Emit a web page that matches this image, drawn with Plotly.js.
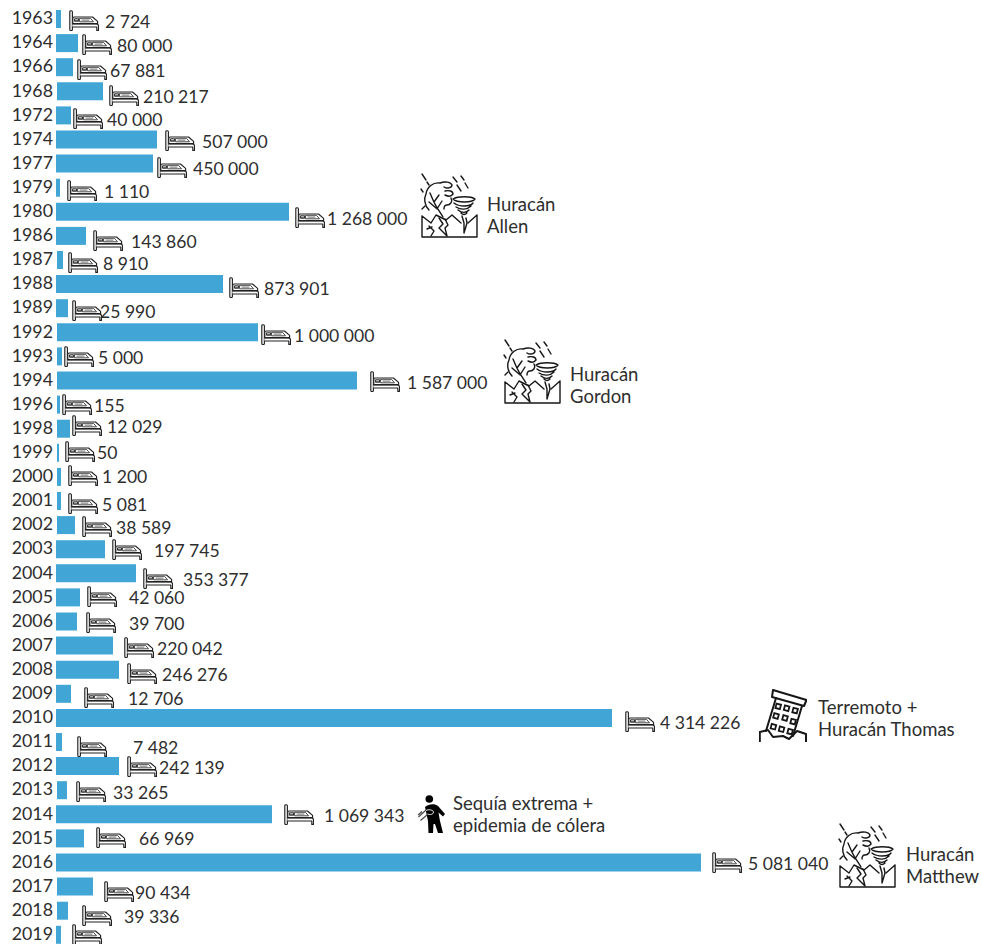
<!DOCTYPE html>
<html>
<head>
<meta charset="utf-8">
<script src="https://cdn.plot.ly/plotly-3.0.1.min.js"></script>
<style>html,body{margin:0;padding:0;background:#fff}#chart{width:981px;height:944px}</style>
</head>
<body>
<div id="chart"></div>
<script>
// ---- data ----
const years = ["1963","1964","1966","1968","1972","1974","1977","1979","1980","1986","1987","1988","1989","1992","1993","1994","1996","1998","1999","2000","2001","2002","2003","2004","2005","2006","2007","2008","2009","2010","2011","2012","2013","2014","2015","2016","2017","2018","2019"];
// Drawn bar lengths: the source bars are not proportional to their printed labels
const barLengths = [5,22,17,46,15,101,97,4,233,30,6,167,12,201,5,300,3,13,1.5,4,4,18,49,80,24,21,57,63,15,556,6,63,10,216,28,645,36,11,5];
const affectedLabels = ["2 724","80 000","67 881","210 217","40 000","507 000","450 000","1 110","1 268 000","143 860","8 910","873 901","25 990","1 000 000","5 000","1 587 000","155","12 029","50","1 200","5 081","38 589","197 745","353 377","42 060","39 700","220 042","246 276","12 706","4 314 226","7 482","242 139","33 265","1 069 343","66 969","5 081 040","90 434","39 336",""];
const eventNotes = [["Huracán","Allen"],["Huracán","Gordon"],["Terremoto +","Huracán Thomas"],["Sequía extrema +","epidemia de cólera"],["Huracán","Matthew"]];

// ---- layout of the hand-placed decorations (pixels in the 981x944 frame) ----
const W = 981, H = 944, LEFT = 56;
const barStartShift = [0,0,0,1,0,0,0,0,0,0,1,0,0,1,1,1,1,1,1,1,1,1,0,0,0,0,0,0,0,0,0,0,1,0,0,0,1,1,0];
const labelLeft = [105,117,110,143,107,202,193,104,327,131,103,264,100,294,98,407,94,107,97,102,102,116,154,183,129,129,157,162,128,660,133,159,113,324,139,748,135,124,0];
const labelMidY = [21,45,70,96,119,141,168,191,218,241,263,288,311,335,357,382,405,426,452,476,504,527,550,579,597,623,648,674,698,722,747,767,792,815,838,863,892,916,0];
const bedLeft = [69,82,77,109,73,165,157,67,295,93,68,229,72,261,64,370,62,72,65,68,68,82,112,143,87,86,124,127,84,625,77,127,76,284,96,712,104,82,72];
const noteLeft = [487,570,818,453,906];
const noteMidY = [215,385,718,814,865];
const ROW0 = 18, STEP = 24.1, TEXT_PAD = 2;
const row = py => (py - ROW0) / STEP;

// ---- icons ----
const uri = s => "data:image/svg+xml;charset=utf-8," + encodeURIComponent(s);
const bedSvg = `<svg xmlns="http://www.w3.org/2000/svg" width="90" height="63" viewBox="0 0 30 21">
<g fill="#fff" stroke="#222" stroke-width="1.15" stroke-linejoin="round" stroke-linecap="round">
<rect x="0.8" y="0.7" width="2.6" height="19.8" rx="1"/>
<path d="M3.4 13.8H27.5Q29.5 13.8 29.5 16V20.4H27.8V17H3.4"/>
<path d="M3.8 12.6V8.4Q3.8 7 5 7H23.5L28.6 11.4V13.6H3.8Z"/>
<rect x="5" y="8.2" width="5.2" height="3.6" rx="1" fill="#333" stroke="none"/>
<path d="M11 8.3H21.5L24.5 11.8H11Z" stroke="#333" stroke-width=".9"/>
<path d="M6.5 9.8H8.6" stroke="#fff" stroke-width=".9"/>
<path d="M13 10.1H20" stroke="#555" stroke-width=".9"/>
</g></svg>`;
const stormSvg = `<svg xmlns="http://www.w3.org/2000/svg" width="174" height="198" viewBox="0 0 58 66">
<g fill="none" stroke="#161616" stroke-width="1.4" stroke-linecap="round" stroke-linejoin="round">
<path d="M2 1L6 7M7 9L9 12M33 4L37 9M37 12L41 18M41 3L44 7M45 10L48 15M1 16L3 19M5 33L2 36"/>
<path d="M9 37C4 32 4 25 6 21C7 14 13 9 20 10C25 8 31 9 32 12C32 15 27 16 24 14M25 18C29 17 33 18 33 21C31 24 27 23 25 22M31 25C33 29 30 32 27 32C25 32 24 34 24 36"/>
<path d="M23 44C20 39 16 34 13 27M16 35L9 29M17 36L22 28M14 29L19 22M10 20L13 27"/>
<path d="M33 26C38 23 51 23 55 26C52 30 37 30 33 26ZM34 30C39 34 50 34 53 30M36 34C41 37 47 37 51 33M38 37C42 40 46 40 49 37M41 40C43 42 45 42 47 40"/>
<path d="M42 43L44 50L44 60L47 50L46 45"/>
<path d="M2 43L11 50L16 42L26 47L32 42L41 50M48 50L57 42M2 43V64H57V42"/>
<path d="M19 45L23 51L19 55L27 63L25 55L28 52L25 46M9 53L14 58L11 63M7 56L12 54"/>
</g></svg>`;
const buildingSvg = `<svg xmlns="http://www.w3.org/2000/svg" width="144" height="159" viewBox="0 0 48 53">
<g fill="none" stroke="#161616" stroke-width="2" stroke-linejoin="round" stroke-linecap="round">
<path d="M14 1L47.5 11L45 17L13 8Z"/>
<path d="M17 9L7 42M43 17L34 47"/>
<path d="M0.8 43L9 41L14 48L24 47L30 50L38 42L47 45V53M0.8 43V53"/>
</g>
<g fill="none" stroke="#161616" stroke-width="1.8">
<rect x="17" y="15" width="4.6" height="4.6" transform="rotate(15 19 17)"/>
<rect x="25.4" y="17" width="4.6" height="4.6" transform="rotate(15 28 19)"/>
<rect x="33.7" y="19.3" width="4.6" height="4.6" transform="rotate(15 36 22)"/>
<rect x="14.7" y="24.7" width="4.6" height="4.6" transform="rotate(15 17 27)"/>
<rect x="23.7" y="26.7" width="4.6" height="4.6" transform="rotate(15 26 29)"/>
<rect x="31.7" y="30.3" width="4.6" height="4.6" transform="rotate(15 34 33)"/>
<rect x="12" y="35.3" width="4.6" height="4.6" transform="rotate(15 14 38)"/>
<rect x="20.3" y="38" width="4.6" height="4.6" transform="rotate(15 23 40)"/>
<rect x="28.7" y="40.3" width="4.6" height="4.6" transform="rotate(15 31 43)"/>
</g></svg>`;
const personSvg = `<svg xmlns="http://www.w3.org/2000/svg" width="84" height="114" viewBox="0 0 28 38">
<circle cx="12.3" cy="4" r="3.8" fill="#000"/>
<path d="M8 12C12 8.500 18 8.500 21 11L28 19L26 21.500L21.500 17.500L23 26L26 38H21L18 29H16.500L16 38H11.500L11 26Z" fill="#000"/>
<path d="M9 15.500C12 14 16 15 16.500 17C16.500 19.500 13 20 10.500 19" stroke="#fff" stroke-width="1" fill="none"/>
<path d="M9 15L1.500 22M10.500 19.500L3.500 25.500M5 16.500L1 20" stroke="#444" stroke-width="1.1" fill="none"/>
</svg>`;

// ---- images ----
const place = (svg, x, y, w, h) => ({
  source: uri(svg), xref: "x", yref: "y", x: x - LEFT, y: row(y),
  sizex: w, sizey: h / STEP, sizing: "stretch", xanchor: "left", yanchor: "top", layer: "above"
});
const images = bedLeft.map((x, i) => place(bedSvg, x, labelMidY[i] ? labelMidY[i] - 11 : 924, 30, 21));
images.push(place(stormSvg, 420, 173, 58, 66));
images.push(place(stormSvg, 503, 339, 58, 66));
images.push(place(buildingSvg, 759, 689, 48, 53));
images.push(place(personSvg, 417, 795, 28, 38));
images.push(place(stormSvg, 838, 823, 58, 66));

// ---- text ----
const FAMILY = "Lato, Carlito, sans-serif";
const numFont = {family: FAMILY, size: 17.6, color: "#2e2e2e"};
const noteFont = {family: FAMILY, size: 18.5, color: "#2e2e2e"};
const annotations = affectedLabels.map((t, i) => ({
  text: t, xref: "x", yref: "y", x: labelLeft[i] - LEFT - TEXT_PAD, y: row(labelMidY[i]),
  xanchor: "left", yanchor: "middle", showarrow: false, font: numFont
})).filter(a => a.text !== "");
eventNotes.forEach((lines, i) => lines.forEach((t, j) => annotations.push({
  text: t, xref: "x", yref: "y", x: noteLeft[i] - LEFT - TEXT_PAD, y: row(noteMidY[i] + (j ? 11 : -11)),
  xanchor: "left", yanchor: "middle", showarrow: false, font: noteFont
})));

const BAR_PX = 18, BAR_DROP = 1;
Plotly.newPlot("chart", [{
  type: "bar", orientation: "h", y: years, x: barLengths, base: barStartShift,
  width: BAR_PX / STEP, offset: (BAR_DROP - BAR_PX / 2) / STEP,
  marker: {color: "#41A5D5", line: {width: 0}}, hoverinfo: "y+x", cliponaxis: false
}], {
  width: W, height: H, paper_bgcolor: "#fff", plot_bgcolor: "#fff", showlegend: false,
  margin: {l: LEFT, r: 0, t: 0, b: 0, pad: 0},
  xaxis: {range: [0, W - LEFT], visible: false, fixedrange: true},
  yaxis: {
    type: "category", categoryorder: "array", categoryarray: years, tickvals: years, ticktext: years,
    range: [row(H), row(0)], showgrid: false, zeroline: false, showline: false, ticks: "",
    ticklabelstandoff: 2,
    tickfont: {family: FAMILY, size: 17.8, color: "#2e2e2e"}, fixedrange: true, automargin: false
  },
  images, annotations
}, {displayModeBar: false, responsive: false});
</script>
</body>
</html>
